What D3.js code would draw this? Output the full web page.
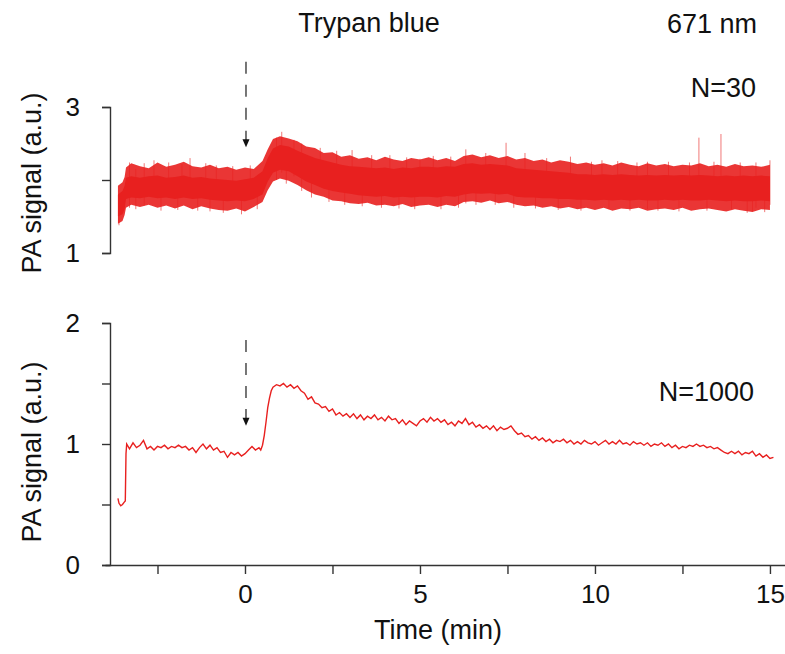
<!DOCTYPE html>
<html>
<head>
<meta charset="utf-8">
<script src="https://cdn.jsdelivr.net/npm/d3@7"></script>
<style>
	body { margin: 0; background: #fff; }
	svg { font-family: "Liberation Sans", Arial, sans-serif; }
	.axis path, .axis line { stroke: #333; stroke-width: 1.4; }
	.axis text { fill: #111; font-size: 26px; }
	.label { fill: #111; font-size: 27px; }
</style>
</head>
<body>
<div id="chart"></div>
<script>
let w = 785
let h = 654
let red = "#e8201f"

// x ticks (min) shared by both panels
let timeTicks = [-2.5, 0, 2.5, 5, 7.5, 10, 12.5, 15]
let topTicks = [1, 2, 3]
let bottomTicks = [0, 0.5, 1, 1.5, 2]
let injectionTime = 0

// N=30 trace read as a band: [time, outer low, core low, core high, outer high]
let topBand = [
	[-3.63, 1.40, 1.50, 1.80, 1.92], [-3.50, 1.44, 1.53, 1.85, 1.97], [-3.44, 1.52, 1.60, 1.92, 2.04],
	[-3.40, 1.62, 1.74, 2.03, 2.17], [-3.25, 1.66, 1.76, 2.05, 2.23], [-3.00, 1.63, 1.75, 2.03, 2.19],
	[-2.75, 1.66, 1.77, 2.05, 2.16], [-2.50, 1.62, 1.75, 2.06, 2.24], [-2.25, 1.65, 1.76, 2.03, 2.18],
	[-2.00, 1.61, 1.74, 2.04, 2.21], [-1.75, 1.65, 1.76, 2.06, 2.25], [-1.50, 1.60, 1.74, 2.03, 2.19],
	[-1.25, 1.64, 1.75, 2.04, 2.17], [-1.00, 1.61, 1.73, 2.02, 2.21], [-0.75, 1.59, 1.72, 2.01, 2.16],
	[-0.50, 1.58, 1.71, 2.00, 2.18], [-0.25, 1.61, 1.72, 1.99, 2.14], [0.00, 1.57, 1.71, 2.01, 2.17],
	[0.25, 1.63, 1.74, 2.03, 2.15], [0.50, 1.70, 1.80, 2.12, 2.26], [0.65, 1.86, 1.98, 2.30, 2.42],
	[0.80, 1.98, 2.10, 2.43, 2.56], [1.00, 2.02, 2.14, 2.48, 2.60], [1.25, 1.99, 2.12, 2.46, 2.57],
	[1.50, 1.93, 2.05, 2.40, 2.53], [1.75, 1.86, 1.98, 2.35, 2.46], [2.00, 1.80, 1.93, 2.30, 2.44],
	[2.25, 1.77, 1.88, 2.27, 2.37], [2.50, 1.72, 1.85, 2.24, 2.38], [2.75, 1.71, 1.83, 2.21, 2.32],
	[3.00, 1.68, 1.81, 2.19, 2.34], [3.25, 1.67, 1.79, 2.18, 2.29], [3.50, 1.69, 1.78, 2.17, 2.31],
	[3.75, 1.65, 1.77, 2.16, 2.27], [4.00, 1.66, 1.78, 2.17, 2.32], [4.25, 1.64, 1.76, 2.15, 2.28],
	[4.50, 1.67, 1.77, 2.17, 2.26], [4.75, 1.63, 1.76, 2.16, 2.30], [5.00, 1.65, 1.77, 2.18, 2.28],
	[5.25, 1.66, 1.77, 2.18, 2.31], [5.50, 1.63, 1.76, 2.17, 2.27], [5.75, 1.66, 1.78, 2.19, 2.30],
	[6.00, 1.64, 1.77, 2.18, 2.26], [6.25, 1.70, 1.80, 2.22, 2.33], [6.50, 1.71, 1.82, 2.23, 2.35],
	[6.75, 1.69, 1.81, 2.21, 2.31], [7.00, 1.72, 1.82, 2.22, 2.34], [7.25, 1.68, 1.80, 2.21, 2.30],
	[7.50, 1.70, 1.81, 2.20, 2.33], [7.75, 1.66, 1.77, 2.16, 2.28], [8.00, 1.64, 1.76, 2.15, 2.30],
	[8.25, 1.65, 1.76, 2.14, 2.26], [8.50, 1.62, 1.75, 2.13, 2.28], [8.75, 1.64, 1.75, 2.12, 2.24],
	[9.00, 1.61, 1.74, 2.11, 2.27], [9.25, 1.63, 1.74, 2.10, 2.25], [9.50, 1.60, 1.73, 2.08, 2.22],
	[9.75, 1.62, 1.73, 2.08, 2.24], [10.00, 1.59, 1.72, 2.07, 2.21], [10.25, 1.62, 1.73, 2.08, 2.23],
	[10.50, 1.58, 1.72, 2.07, 2.20], [10.75, 1.61, 1.73, 2.08, 2.24], [11.00, 1.60, 1.72, 2.07, 2.21],
	[11.25, 1.62, 1.73, 2.06, 2.19], [11.50, 1.58, 1.72, 2.07, 2.23], [11.75, 1.60, 1.72, 2.06, 2.20],
	[12.00, 1.61, 1.73, 2.07, 2.22], [12.25, 1.59, 1.72, 2.06, 2.19], [12.50, 1.62, 1.73, 2.07, 2.21],
	[12.75, 1.58, 1.72, 2.06, 2.20], [13.00, 1.60, 1.72, 2.07, 2.23], [13.25, 1.61, 1.73, 2.06, 2.19],
	[13.50, 1.59, 1.72, 2.05, 2.21], [13.75, 1.57, 1.71, 2.06, 2.18], [14.00, 1.60, 1.72, 2.05, 2.22],
	[14.25, 1.58, 1.71, 2.06, 2.19], [14.50, 1.56, 1.71, 2.05, 2.20], [14.75, 1.60, 1.72, 2.06, 2.18],
	[15.00, 1.59, 1.71, 2.05, 2.21]
]

// single spikes sticking out of the N=30 band: [time, low, high]
let topSpikes = [
	[-3.60, 1.38, 1.75], [-3.30, 1.62, 2.24], [-3.12, 1.60, 2.15], [-2.88, 1.65, 2.23], [-2.60, 1.80, 2.27],
	[-2.40, 1.58, 1.80], [-2.18, 1.80, 2.24], [-1.92, 1.59, 1.80], [-1.80, 1.80, 2.22], [-1.57, 1.80, 2.30],
	[-1.35, 1.58, 1.80], [-1.12, 1.80, 2.23], [-1.00, 1.57, 1.80], [-0.82, 1.80, 2.20], [-0.62, 1.55, 1.80],
	[-0.35, 1.80, 2.19], [-0.10, 1.53, 1.80], [0.15, 1.80, 2.20], [0.35, 1.60, 1.85],
	[0.90, 2.00, 2.58], [1.05, 2.10, 2.66], [1.18, 1.95, 2.20], [1.40, 2.05, 2.55], [1.62, 1.85, 2.50],
	[1.90, 1.76, 2.00], [2.15, 2.00, 2.44], [2.40, 1.70, 1.90], [2.62, 2.00, 2.40], [2.85, 1.66, 1.90],
	[3.06, 1.85, 2.41], [3.35, 1.64, 1.90], [3.62, 1.90, 2.34], [3.90, 1.62, 1.90], [4.14, 1.80, 2.34],
	[4.40, 1.61, 1.90], [4.62, 1.90, 2.31], [4.85, 1.60, 1.85], [5.00, 1.80, 2.29], [5.38, 1.90, 2.33],
	[5.60, 1.60, 1.85], [5.88, 1.90, 2.32], [6.10, 1.62, 1.90], [6.31, 1.68, 2.42], [6.60, 1.66, 1.90],
	[6.88, 1.95, 2.37], [7.15, 1.66, 1.90], [7.46, 1.85, 2.51], [7.68, 1.62, 1.85], [8.00, 1.80, 2.37],
	[8.30, 1.61, 1.85], [8.62, 1.85, 2.30], [8.95, 1.59, 1.80], [9.30, 1.80, 2.32], [9.60, 1.58, 1.80],
	[9.90, 1.80, 2.25], [10.20, 1.80, 2.27], [10.40, 1.60, 1.80], [10.65, 1.80, 2.26], [11.00, 1.58, 1.80],
	[11.20, 1.80, 2.24], [11.50, 1.60, 2.25], [11.80, 1.58, 1.80], [12.10, 1.80, 2.25], [12.40, 1.57, 1.80],
	[12.70, 1.80, 2.24], [12.97, 1.85, 2.58], [13.20, 1.58, 1.80], [13.40, 1.80, 2.25], [13.60, 1.85, 2.63],
	[13.90, 1.60, 1.80], [14.15, 1.80, 2.24], [14.35, 1.55, 1.80], [14.50, 1.57, 1.80], [14.60, 1.62, 2.24],
	[14.85, 1.56, 1.80], [15.00, 1.66, 2.27]
]

// N=1000 trace: [time, signal]
let bottomTrace = [
	[-3.63, 0.55], [-3.60, 0.51], [-3.55, 0.49], [-3.50, 0.50], [-3.45, 0.52], [-3.42, 0.53], [-3.40, 0.92],
	[-3.38, 1.00], [-3.30, 0.96], [-3.20, 1.01], [-3.10, 0.97], [-3.00, 0.99], [-2.90, 1.03], [-2.80, 0.96],
	[-2.70, 0.98], [-2.60, 0.95], [-2.50, 0.98], [-2.40, 0.97], [-2.30, 0.99], [-2.20, 0.96], [-2.10, 0.98],
	[-2.00, 0.97], [-1.90, 0.99], [-1.80, 0.97], [-1.70, 0.98], [-1.60, 0.95], [-1.50, 0.97], [-1.40, 0.93],
	[-1.30, 0.97], [-1.20, 1.00], [-1.10, 0.96], [-1.00, 0.99], [-0.90, 0.95], [-0.80, 0.97], [-0.70, 0.93],
	[-0.60, 0.94], [-0.50, 0.89], [-0.40, 0.93], [-0.30, 0.91], [-0.20, 0.93], [-0.10, 0.90], [0.00, 0.92],
	[0.10, 0.95], [0.20, 0.98], [0.30, 0.95], [0.40, 0.97], [0.45, 0.95], [0.50, 0.99], [0.55, 1.07],
	[0.60, 1.18], [0.65, 1.30], [0.70, 1.38], [0.75, 1.44], [0.80, 1.47], [0.90, 1.49], [1.00, 1.48],
	[1.10, 1.50], [1.20, 1.47], [1.30, 1.49], [1.40, 1.46], [1.50, 1.48], [1.60, 1.44], [1.70, 1.42],
	[1.80, 1.37], [1.90, 1.39], [2.00, 1.34], [2.10, 1.33], [2.20, 1.30], [2.30, 1.31], [2.40, 1.27],
	[2.50, 1.29], [2.60, 1.24], [2.70, 1.26], [2.80, 1.23], [2.90, 1.25], [3.00, 1.22], [3.10, 1.25],
	[3.20, 1.21], [3.30, 1.24], [3.40, 1.20], [3.50, 1.23], [3.60, 1.21], [3.70, 1.24], [3.80, 1.20],
	[3.90, 1.22], [4.00, 1.19], [4.10, 1.23], [4.20, 1.20], [4.30, 1.21], [4.40, 1.17], [4.50, 1.20],
	[4.60, 1.16], [4.70, 1.19], [4.80, 1.17], [4.90, 1.15], [5.00, 1.19], [5.10, 1.21], [5.20, 1.18],
	[5.30, 1.22], [5.40, 1.19], [5.50, 1.21], [5.60, 1.18], [5.70, 1.20], [5.80, 1.16], [5.90, 1.18],
	[6.00, 1.15], [6.10, 1.19], [6.20, 1.17], [6.30, 1.21], [6.40, 1.16], [6.50, 1.18], [6.60, 1.14],
	[6.70, 1.16], [6.80, 1.13], [6.90, 1.15], [7.00, 1.12], [7.10, 1.15], [7.20, 1.11], [7.30, 1.14],
	[7.40, 1.12], [7.50, 1.13], [7.60, 1.15], [7.70, 1.11], [7.80, 1.08], [7.90, 1.09], [8.00, 1.06],
	[8.10, 1.07], [8.20, 1.04], [8.30, 1.06], [8.40, 1.03], [8.50, 1.05], [8.60, 1.02], [8.70, 1.04],
	[8.80, 1.01], [8.90, 1.03], [9.00, 1.02], [9.10, 1.04], [9.20, 1.01], [9.30, 1.03], [9.40, 1.00],
	[9.50, 1.02], [9.60, 1.00], [9.70, 1.03], [9.80, 1.01], [9.90, 1.00], [10.00, 1.02], [10.10, 0.99],
	[10.20, 1.01], [10.30, 1.03], [10.40, 1.00], [10.50, 1.02], [10.60, 1.00], [10.70, 1.03], [10.80, 1.00],
	[10.90, 1.01], [11.00, 0.99], [11.10, 1.02], [11.20, 1.00], [11.30, 1.01], [11.40, 0.99], [11.50, 1.01],
	[11.60, 0.98], [11.70, 1.00], [11.80, 0.99], [11.90, 1.01], [12.00, 0.98], [12.10, 1.00], [12.20, 0.97],
	[12.30, 0.99], [12.40, 0.96], [12.50, 0.98], [12.60, 0.97], [12.70, 0.99], [12.80, 0.98], [12.90, 1.00],
	[13.00, 0.98], [13.10, 0.99], [13.20, 0.97], [13.30, 0.98], [13.40, 0.96], [13.50, 0.97], [13.60, 0.95],
	[13.70, 0.93], [13.80, 0.92], [13.90, 0.94], [14.00, 0.92], [14.10, 0.94], [14.20, 0.91], [14.30, 0.93],
	[14.40, 0.92], [14.50, 0.94], [14.60, 0.90], [14.70, 0.92], [14.80, 0.89], [14.90, 0.91], [15.00, 0.88],
	[15.10, 0.89]
]

let svg = d3.select("#chart")
	.append("svg")
	.attr("width", w)
	.attr("height", h)

let x = d3.scaleLinear().domain([-4, 15.43]).range([105, 785])
let yTop = d3.scaleLinear().domain([1, 3]).range([253, 107])
let yBot = d3.scaleLinear().domain([0, 2]).range([565, 323])
let axisX = 110

// N=30 band
let outer = d3.area()
	.x(d => x(d[0]))
	.y0(d => yTop(d[1]))
	.y1(d => yTop(d[4]))

let core = d3.area()
	.x(d => x(d[0]))
	.y0(d => yTop(d[2]))
	.y1(d => yTop(d[3]))

svg.selectAll(".spike")
	.data(topSpikes)
	.join("line")
	.attr("class", "spike")
	.attr("x1", d => x(d[0]))
	.attr("x2", d => x(d[0]))
	.attr("y1", d => yTop(d[1]))
	.attr("y2", d => yTop(d[2]))
	.attr("stroke", red)
	.attr("stroke-width", 1)
	.attr("opacity", 0.6)

svg.append("path")
	.datum(topBand)
	.attr("d", outer)
	.attr("fill", red)
	.attr("opacity", 0.9)

svg.append("path")
	.datum(topBand)
	.attr("d", core)
	.attr("fill", red)

// N=1000 line
let line = d3.line()
	.x(d => x(d[0]))
	.y(d => yBot(d[1]))

svg.append("path")
	.datum(bottomTrace)
	.attr("d", line)
	.attr("fill", "none")
	.attr("stroke", red)
	.attr("stroke-width", 1.4)

// axes
svg.append("g")
	.attr("class", "axis")
	.attr("transform", "translate(" + axisX + ",0)")
	.call(d3.axisLeft(yTop).tickValues(topTicks).tickSize(8).tickPadding(22)
		.tickFormat(d => d === 2 ? "" : d))

svg.append("g")
	.attr("class", "axis")
	.attr("transform", "translate(" + axisX + ",0)")
	.call(d3.axisLeft(yBot).tickValues(bottomTicks).tickSize(8).tickPadding(22)
		.tickFormat(d => Number.isInteger(d) ? d : ""))

svg.append("g")
	.attr("class", "axis")
	.attr("transform", "translate(0," + yBot(0) + ")")
	.call(d3.axisBottom(x).tickValues(timeTicks).tickSize(9).tickPadding(11).tickSizeOuter(0)
		.tickFormat(d => d % 5 === 0 ? d : ""))

svg.selectAll(".axis .domain").attr("fill", "none")

// injection arrows
let arrow = (yScale, from, to) => {
	let ax = x(injectionTime) + 1
	svg.append("line")
		.attr("x1", ax).attr("x2", ax)
		.attr("y1", yScale(from)).attr("y2", yScale(to) - 7)
		.attr("stroke", "#555")
		.attr("stroke-width", 1.6)
		.attr("stroke-dasharray", "12,11")
	svg.append("path")
		.attr("d", "M" + (ax - 3.5) + "," + (yScale(to) - 8) + "L" + (ax + 3.5) + "," + (yScale(to) - 8) + "L" + ax + "," + yScale(to) + "Z")
		.attr("fill", "#111")
}
arrow(yTop, 3.62, 2.45)
arrow(yBot, 1.86, 1.15)

// labels
svg.append("text").attr("class", "label")
	.attr("x", 369).attr("y", 32)
	.attr("text-anchor", "middle")
	.text("Trypan blue")

svg.append("text").attr("class", "label")
	.attr("x", 757).attr("y", 33)
	.attr("text-anchor", "end")
	.text("671 nm")

svg.append("text").attr("class", "label")
	.attr("x", 756).attr("y", 97)
	.attr("text-anchor", "end")
	.text("N=30")

svg.append("text").attr("class", "label")
	.attr("x", 754).attr("y", 401)
	.attr("text-anchor", "end")
	.text("N=1000")

svg.append("text").attr("class", "label")
	.attr("x", 438).attr("y", 639)
	.attr("text-anchor", "middle")
	.text("Time (min)")

let yTitle = cy => svg.append("text").attr("class", "label")
	.attr("transform", "translate(41," + cy + ") rotate(-90)")
	.attr("text-anchor", "middle")
	.text("PA signal (a.u.)")

yTitle(183)
yTitle(452)
</script>
</body>
</html>
